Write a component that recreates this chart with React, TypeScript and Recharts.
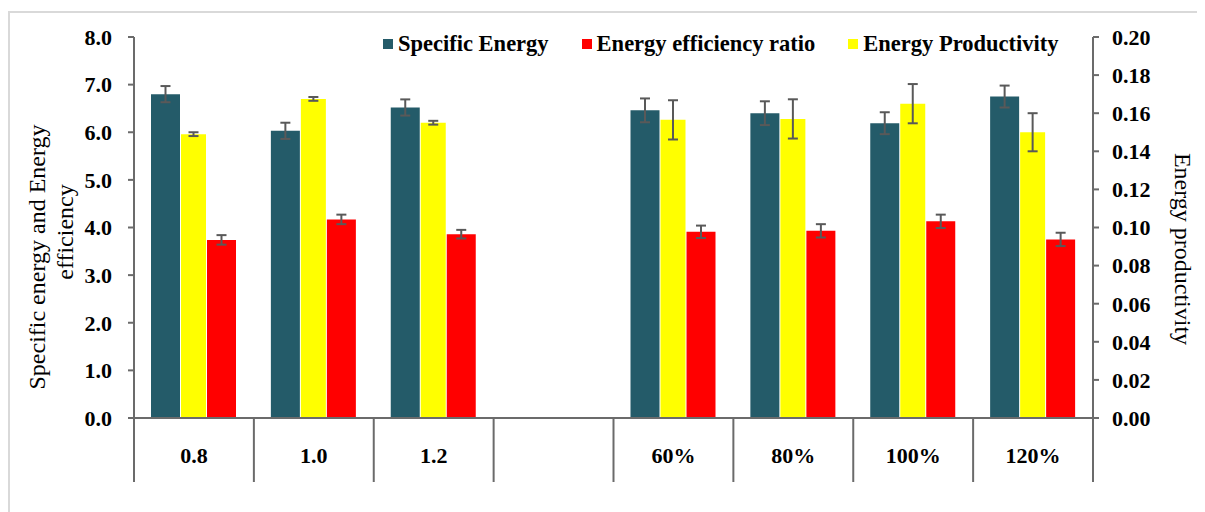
import { BarChart, Bar, XAxis, YAxis, ErrorBar, Legend } from 'recharts';

const categories = ['0.8', '1.0', '1.2', '', '60%', '80%', '100%', '120%'];
const specificEnergy = [6.8, 6.03, 6.52, null, 6.46, 6.4, 6.19, 6.75];
const specificEnergyErr = [0.17, 0.17, 0.17, null, 0.25, 0.25, 0.23, 0.23];
const efficiencyRatio = [3.74, 4.17, 3.86, null, 3.91, 3.93, 4.13, 3.75];
const efficiencyRatioErr = [0.1, 0.1, 0.09, null, 0.13, 0.14, 0.14, 0.14];
const productivity = [0.149, 0.1675, 0.155, null, 0.1565, 0.157, 0.165, 0.15];
const productivityErr = [0.001, 0.001, 0.001, null, 0.0103, 0.0103, 0.0103, 0.01];

const leftTicks = [0, 1, 2, 3, 4, 5, 6, 7, 8];
const rightTicks = [0, 0.02, 0.04, 0.06, 0.08, 0.1, 0.12, 0.14, 0.16, 0.18, 0.2];

const data = categories.map((name, i) => ({
  name,
  se: specificEnergy[i],
  seErr: specificEnergyErr[i],
  eer: efficiencyRatio[i],
  eerErr: efficiencyRatioErr[i],
  ep: productivity[i],
  epErr: productivityErr[i],
}));

const FONT = "'Times New Roman', 'Liberation Serif', serif";
const AXIS = '#6b6b6b';
const TEAL = '#245b69';
const RED = '#ff0000';
const YELLOW = '#ffff00';

const CHART_W = 1197;
const CHART_H = 504;
const LEFT_W = 126;
const RIGHT_W = 112;
const TOP = 29;
const X_H = 94;
const PLOT_W = CHART_W - LEFT_W - RIGHT_W;
const AXIS_Y = CHART_H - X_H;
const BAND = PLOT_W / categories.length;

const tickStyle = { fontFamily: FONT, fontWeight: 700, fontSize: 22, fill: '#000' };

// category labels plus the vertical separators under the axis
const CategoryTick = (props: any) => {
  const { x, payload } = props;
  const isLast = payload.value === categories[categories.length - 1];
  return (
    <g>
      <line x1={x - BAND / 2} y1={AXIS_Y} x2={x - BAND / 2} y2={AXIS_Y + 64} stroke={AXIS} strokeWidth={2} />
      {isLast && (
        <line x1={x + BAND / 2} y1={AXIS_Y} x2={x + BAND / 2} y2={AXIS_Y + 64} stroke={AXIS} strokeWidth={2} />
      )}
      <text x={x} y={AXIS_Y + 37} textAnchor="middle" dominantBaseline="central" {...tickStyle}>
        {payload.value}
      </text>
    </g>
  );
};

const legendItems = [
  { label: 'Specific Energy', color: TEAL },
  { label: 'Energy efficiency ratio', color: RED },
  { label: 'Energy Productivity', color: YELLOW },
];

const renderLegend = () => (
  <div style={{ display: 'flex', gap: 33, alignItems: 'center' }}>
    {legendItems.map((it) => (
      <div key={it.label} style={{ display: 'flex', alignItems: 'center' }}>
        <span style={{ width: 10, height: 10, background: it.color, marginRight: 5, display: 'inline-block' }} />
        <span style={{ fontFamily: FONT, fontWeight: 700, fontSize: 22.5, color: '#000', whiteSpace: 'nowrap' }}>
          {it.label}
        </span>
      </div>
    ))}
  </div>
);

export default function App() {
  return (
    <div style={{ position: 'relative', width: CHART_W, height: CHART_H }}>
      <div
        style={{
          position: 'absolute',
          left: 0,
          top: 3,
          width: 1300,
          height: 600,
          borderLeft: '2px solid #d9d9d9',
          borderTop: '2px solid #d9d9d9',
          boxSizing: 'border-box',
        }}
      />
      <BarChart
        width={CHART_W}
        height={CHART_H}
        data={data}
        margin={{ top: TOP, right: 0, bottom: 0, left: 0 }}
        barGap={1}
        barCategoryGap={0}
      >
        <XAxis
          dataKey="name"
          height={X_H}
          interval={0}
          tickLine={false}
          axisLine={{ stroke: AXIS, strokeWidth: 2 }}
          tick={<CategoryTick />}
        />
        <YAxis
          yAxisId="left"
          width={LEFT_W}
          domain={[0, 8]}
          ticks={leftTicks}
          tickFormatter={(v: number) => v.toFixed(1)}
          tick={tickStyle}
          tickSize={6}
          tickMargin={16}
          axisLine={{ stroke: AXIS, strokeWidth: 2 }}
          tickLine={{ stroke: AXIS, strokeWidth: 2 }}
          label={{
            content: () => (
              <g fontFamily={FONT} fontSize={24} fill="#000">
                <text x={29} y={249} transform="rotate(-90 29 249)" textAnchor="middle" dominantBaseline="central">
                  Specific energy and Energy
                </text>
                <text x={57} y={224} transform="rotate(-90 57 224)" textAnchor="middle" dominantBaseline="central">
                  efficiency
                </text>
              </g>
            ),
          }}
        />
        <YAxis
          yAxisId="right"
          orientation="right"
          width={RIGHT_W}
          domain={[0, 0.2]}
          ticks={rightTicks}
          tickFormatter={(v: number) => v.toFixed(2)}
          tick={{ ...tickStyle, textAnchor: 'start' }}
          tickSize={6}
          tickMargin={13}
          axisLine={{ stroke: AXIS, strokeWidth: 2 }}
          tickLine={{ stroke: AXIS, strokeWidth: 2 }}
          label={{
            content: () => (
              <text
                x={1175}
                y={241}
                transform="rotate(90 1175 241)"
                textAnchor="middle"
                dominantBaseline="central"
                fontFamily={FONT}
                fontSize={24}
                fill="#000"
              >
                Energy productivity
              </text>
            ),
          }}
        />
        <Legend
          verticalAlign="middle"
          align="center"
          layout="horizontal"
          content={renderLegend}
          wrapperStyle={{ top: 23, left: 375, width: 'auto' }}
        />
        <Bar yAxisId="left" dataKey="se" name="Specific Energy" fill={TEAL} barSize={29} isAnimationActive={false}>
          <ErrorBar dataKey="seErr" width={5} stroke="#595959" strokeWidth={2} direction="y" />
        </Bar>
        <Bar yAxisId="right" dataKey="ep" name="Energy Productivity" fill={YELLOW} barSize={25} isAnimationActive={false}>
          <ErrorBar dataKey="epErr" width={5} stroke="#595959" strokeWidth={2} direction="y" />
        </Bar>
        <Bar yAxisId="left" dataKey="eer" name="Energy efficiency ratio" fill={RED} barSize={29} isAnimationActive={false}>
          <ErrorBar dataKey="eerErr" width={5} stroke="#595959" strokeWidth={2} direction="y" />
        </Bar>
      </BarChart>
    </div>
  );
}
